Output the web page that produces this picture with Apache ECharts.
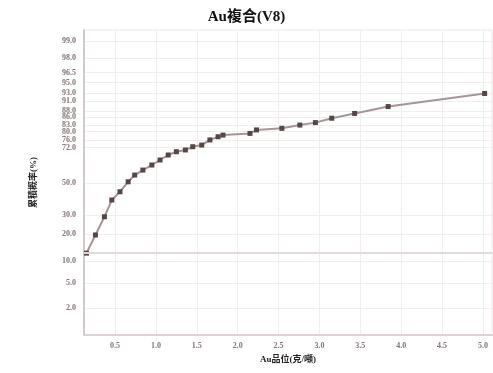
<!DOCTYPE html>
<html>
<head>
<meta charset="utf-8">
<script src="https://cdn.jsdelivr.net/npm/echarts@6/dist/echarts.min.js"></script>
<style>
  html, body { margin: 0; padding: 0; background: #fff; }
  #chart { width: 493px; height: 373px; }
</style>
</head>
<body>
<div id="chart"></div>
<script>
// Au grade (g/t) of each sample point
const grade = [0.15, 0.26, 0.37, 0.46, 0.56, 0.66, 0.74, 0.84, 0.95, 1.05, 1.15, 1.25, 1.36,
               1.45, 1.56, 1.66, 1.76, 1.82, 2.15, 2.23, 2.54, 2.76, 2.95, 3.15, 3.43, 3.84, 5.02];
// cumulative probability (%) at each grade
const cumulativePct = [12.5, 19.7, 29.0, 39.0, 44.3, 50.8, 55.2, 58.4, 61.6, 64.7, 67.7, 69.6, 70.6,
                       72.4, 73.3, 76.0, 77.6, 78.4, 79.2, 80.8, 81.5, 82.9, 83.9, 85.6, 87.3, 89.5, 92.9];
// probability-paper tick labels (%)
const probTicks = [2, 5, 10, 20, 30, 50, 72, 76, 80, 83, 86, 88, 91, 93, 95, 96.5, 98, 99];
// grade tick labels (g/t)
const gradeTicks = [0.5, 1.0, 1.5, 2.0, 2.5, 3.0, 3.5, 4.0, 4.5, 5.0];
// horizontal reference level (%)
const referencePct = [12.5];

// Inverse of the standard normal CDF (Acklam's rational approximation)
function probit(p) {
  const a = [-3.969683028665376e+01, 2.209460984245205e+02, -2.759285104469687e+02,
             1.383577518672690e+02, -3.066479806614716e+01, 2.506628277459239e+00];
  const b = [-5.447609879822406e+01, 1.615858368580409e+02, -1.556989798598866e+02,
             6.680131188771972e+01, -1.328068155288572e+01];
  const c = [-7.784894002430293e-03, -3.223964580411365e-01, -2.400758277161838e+00,
             -2.549732539343734e+00, 4.374664141464968e+00, 2.938163982698783e+00];
  const d = [7.784695709041462e-03, 3.224671290700398e-01, 2.445134137142996e+00,
             3.754408661907416e+00];
  const plow = 0.02425, phigh = 1 - plow;
  let q, r;
  if (p < plow) {
    q = Math.sqrt(-2 * Math.log(p));
    return (((((c[0]*q+c[1])*q+c[2])*q+c[3])*q+c[4])*q+c[5]) /
           ((((d[0]*q+d[1])*q+d[2])*q+d[3])*q+1);
  }
  if (p <= phigh) {
    q = p - 0.5; r = q * q;
    return (((((a[0]*r+a[1])*r+a[2])*r+a[3])*r+a[4])*r+a[5])*q /
           (((((b[0]*r+b[1])*r+b[2])*r+b[3])*r+b[4])*r+1);
  }
  q = Math.sqrt(-2 * Math.log(1 - p));
  return -(((((c[0]*q+c[1])*q+c[2])*q+c[3])*q+c[4])*q+c[5]) /
          ((((d[0]*q+d[1])*q+d[2])*q+d[3])*q+1);
}
const zOf = pct => probit(pct / 100);

const tickZ = probTicks.map(zOf);
function labelFor(z) {
  let best = 0, bd = Infinity;
  tickZ.forEach((t, i) => { const dd = Math.abs(t - z); if (dd < bd) { bd = dd; best = i; } });
  return probTicks[best].toFixed(1);
}

const seriesData = grade.map((g, i) => [g, zOf(cumulativePct[i])]);

const labelFont = 'Liberation Serif, Noto Sans CJK TC, serif';
const chart = echarts.init(document.getElementById('chart'), null, { renderer: 'canvas' });
chart.setOption({
  animation: false,
  backgroundColor: '#ffffff',
  title: {
    text: 'Au複合(V8)',
    left: 'center',
    top: 5,
    textStyle: { fontFamily: labelFont, fontWeight: 'bold', fontSize: 15, color: '#111' }
  },
  grid: {
    left: 84, right: 1, top: 30, bottom: 38,
    show: true, borderColor: '#eee6e6', borderWidth: 1
  },
  xAxis: {
    type: 'value',
    min: 0.12,
    max: 5.11,
    name: 'Au品位(克/噸)',
    nameLocation: 'middle',
    nameGap: 18,
    nameTextStyle: { fontFamily: labelFont, fontWeight: 'bold', fontSize: 9, color: '#222' },
    axisLine: { show: true, onZero: false, lineStyle: { color: '#ddd3d3', width: 2 } },
    axisTick: { show: false, customValues: gradeTicks },
    axisLabel: {
      customValues: gradeTicks,
      formatter: v => v.toFixed(1),
      fontFamily: labelFont, fontWeight: 'bold', fontSize: 8, color: '#857575', margin: 7
    },
    splitLine: { show: true, lineStyle: { color: '#f3eeee', width: 1 } }
  },
  yAxis: {
    type: 'value',
    min: zOf(0.634),
    max: zOf(99.395),
    name: '累積概率(%)',
    nameLocation: 'middle',
    nameGap: 46,
    nameRotate: 90,
    nameTextStyle: { fontFamily: labelFont, fontWeight: 'bold', fontSize: 9, color: '#222' },
    axisLine: { show: true, onZero: false, lineStyle: { color: '#d4c8c8', width: 2 } },
    axisTick: { show: false, customValues: tickZ },
    axisLabel: {
      customValues: tickZ,
      formatter: labelFor,
      fontFamily: labelFont, fontWeight: 'bold', fontSize: 8, color: '#857575', margin: 8
    },
    splitLine: { show: true, lineStyle: { color: '#f3eeee', width: 1 } }
  },
  series: [{
    type: 'line',
    data: seriesData,
    symbol: 'rect',
    symbolSize: 5,
    itemStyle: { color: '#564646' },
    lineStyle: { color: '#a69595', width: 2 },
    markLine: {
      silent: true,
      symbol: 'none',
      label: { show: false },
      lineStyle: { color: '#e2dada', width: 2, type: 'solid' },
      data: referencePct.map(p => ({ yAxis: zOf(p) }))
    }
  }]
});
</script>
</body>
</html>
